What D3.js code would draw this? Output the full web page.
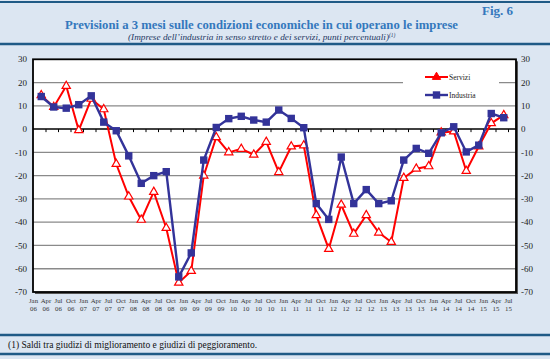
<!DOCTYPE html>
<html><head><meta charset="utf-8">
<script src="https://cdn.jsdelivr.net/npm/d3@7"></script>
<style>body{margin:0;background:#dce6f2;} svg{display:block;}</style>
</head><body>
<script>
const tickLabels = ["Jan 06","Apr 06","Jul 06","Oct 06","Jan 07","Apr 07","Jul 07","Oct 07",
 "Jan 08","Apr 08","Jul 08","Oct 08","Jan 09","Apr 09","Jul 09","Oct 09",
 "Jan 10","Apr 10","Jul 10","Oct 10","Jan 11","Apr 11","Jul 11","Oct 11",
 "Jan 12","Apr 12","Jul 12","Oct 12","Jan 13","Apr 13","Jul 13","Oct 13",
 "Jan 14","Apr 14","Jul 14","Oct 14","Jan 15","Apr 15","Jul 15"];
const servizi = [14.5,9.5,18.5,-0.5,13,8.5,-15,-29,-39,-27,-42.5,-66,-61,-20,-3.5,-10,-8.5,-11,-5.5,
 -18.5,-7.5,-7,-37,-51.5,-32.5,-45,-37,-44.5,-48.5,-21,-17,-16,-1.5,-1,-18,-7.5,2.5,6];
const industria = [14,9.5,9,10.5,14.3,3,-0.7,-11.5,-23.3,-20,-18.3,-63.5,-53.2,-13.3,0.7,4.5,5.5,3.9,3,
 8.2,4.6,0.6,-32,-38.8,-12,-32,-26,-32,-30.8,-13.3,-8.3,-10.4,-1.6,1,-9.8,-6.9,6.7,4.9];
const yTicks = [30,20,10,0,-10,-20,-30,-40,-50,-60,-70];
const seriesNames = ["Servizi","Industria"];

const W=550,H=359;
const svg=d3.select("body").append("svg").attr("width",W).attr("height",H);
svg.append("rect").attr("width",W).attr("height",H).attr("fill","#dce6f2");

const dark="#1f5a86", titleBlue="#3478bd";
svg.append("line").attr("x1",0).attr("x2",W).attr("y1",2).attr("y2",2).attr("stroke",dark).attr("stroke-width",2);
svg.append("line").attr("x1",0).attr("x2",W).attr("y1",44).attr("y2",44).attr("stroke",dark).attr("stroke-width",2.5);
svg.append("line").attr("x1",0).attr("x2",W).attr("y1",335).attr("y2",335).attr("stroke",dark).attr("stroke-width",2.5);
svg.append("line").attr("x1",0).attr("x2",W).attr("y1",354).attr("y2",354).attr("stroke",dark).attr("stroke-width",2.5);

svg.append("text").attr("x",513).attr("y",15).attr("text-anchor","end")
 .attr("font-family","Liberation Serif").attr("font-weight","bold").attr("font-size",13).attr("fill",titleBlue).text("Fig. 6");
svg.append("text").attr("x",65).attr("y",29).attr("textLength",393).attr("lengthAdjust","spacingAndGlyphs")
 .attr("font-family","Liberation Serif").attr("font-weight","bold").attr("font-size",13).attr("fill",titleBlue)
 .text("Previsioni a 3 mesi sulle condizioni economiche in cui operano le imprese");
const st=svg.append("text").attr("x",128).attr("y",40)
 .attr("font-family","Liberation Serif").attr("font-style","italic").attr("font-size",8.8).attr("fill","#1f3864");
st.append("tspan").attr("textLength",261).attr("lengthAdjust","spacingAndGlyphs").text("(Imprese dell\u2019industria in senso stretto e dei servizi, punti percentuali)");
st.append("tspan").attr("font-size",5.5).attr("dy",-3).text("(1)");

svg.append("text").attr("x",8).attr("y",348).attr("font-family","Liberation Serif").attr("font-size",9.5).attr("fill","#111")
 .text("(1) Saldi tra giudizi di miglioramento e giudizi di peggioramento.");

const x=d3.scaleLinear().domain([0,38.6]).range([33.5,516]);
const y=d3.scaleLinear().domain([-70,30]).range([292,59.3]);
const pOff=0.62;
const L=33, R=516, T=y(30), B=y(-70);

svg.append("rect").attr("x",L+2).attr("y",T+2).attr("width",R-L).attr("height",B-T).attr("fill","#555");
svg.append("rect").attr("x",L).attr("y",T).attr("width",R-L).attr("height",B-T).attr("fill","#fff");

svg.append("g").selectAll("line").data(yTicks.filter(d=>d!==0&&d!==30&&d!==-70)).join("line")
 .attr("x1",L).attr("x2",R).attr("y1",d=>y(d)).attr("y2",d=>y(d)).attr("stroke","#8a8a8a").attr("stroke-width",1.3);

svg.append("rect").attr("x",403).attr("y",64).attr("width",96).attr("height",40).attr("fill","#fff");

svg.append("line").attr("x1",L).attr("x2",R).attr("y1",y(0)).attr("y2",y(0)).attr("stroke","#000").attr("stroke-width",1.5);
svg.append("g").selectAll("line").data(d3.range(1,tickLabels.length)).join("line")
 .attr("x1",d=>x(d)).attr("x2",d=>x(d)).attr("y1",y(0)).attr("y2",y(0)+3).attr("stroke","#000").attr("stroke-width",1);

svg.append("rect").attr("x",L).attr("y",T).attr("width",R-L).attr("height",B-T).attr("fill","none").attr("stroke","#000").attr("stroke-width",1.8);

const yl=svg.append("g").attr("font-family","Liberation Serif").attr("font-size",9).attr("fill","#222");
yl.selectAll("text.l").data(yTicks).join("text").attr("class","l").attr("x",27).attr("y",d=>y(d)).attr("dy","0.35em").attr("text-anchor","end").text(d=>d);
yl.selectAll("text.r").data(yTicks).join("text").attr("class","r").attr("x",521).attr("y",d=>y(d)).attr("dy","0.35em").attr("text-anchor","start").text(d=>d);

const xl=svg.append("g").attr("font-family","Liberation Serif").attr("font-size",6.8).attr("fill","#333").attr("text-anchor","middle");
xl.selectAll("text.m").data(tickLabels).join("text").attr("class","m").attr("x",(d,i)=>x(i)).attr("y",302.5).text(d=>d.split(" ")[0]);
xl.selectAll("text.yr").data(tickLabels).join("text").attr("class","yr").attr("x",(d,i)=>x(i)).attr("y",311).text(d=>d.split(" ")[1]);

const red="#ff0000", blue="#333399";
const line=d3.line().x((d,i)=>x(i+pOff)).y(d=>y(d));
svg.append("path").datum(servizi).attr("d",line).attr("fill","none").attr("stroke",red).attr("stroke-width",2);
const tri=d3.symbol().type(d3.symbolTriangle).size(30);
svg.append("g").selectAll("path").data(servizi).join("path").attr("d",tri)
 .attr("transform",(d,i)=>`translate(${x(i+pOff)},${y(d)})`).attr("fill","#fff").attr("stroke",red).attr("stroke-width",1.2);

svg.append("path").datum(industria).attr("d",line).attr("fill","none").attr("stroke",blue).attr("stroke-width",2.4);
svg.append("g").selectAll("rect").data(industria).join("rect")
 .attr("x",(d,i)=>x(i+pOff)-3.7).attr("y",d=>y(d)-3.7).attr("width",7.4).attr("height",7.4).attr("fill",blue);

const lg=svg.append("g").attr("font-family","Liberation Serif").attr("font-size",7.5).attr("fill","#222");
const ly=[77,95];
lg.append("line").attr("x1",425).attr("x2",448).attr("y1",ly[0]).attr("y2",ly[0]).attr("stroke",red).attr("stroke-width",2);
lg.append("path").attr("d",tri).attr("transform",`translate(436.5,${ly[0]})`).attr("fill",red).attr("stroke",red);
lg.append("line").attr("x1",425).attr("x2",448).attr("y1",ly[1]).attr("y2",ly[1]).attr("stroke",blue).attr("stroke-width",2.4);
lg.append("rect").attr("x",436.5-3.7).attr("y",ly[1]-3.7).attr("width",7.4).attr("height",7.4).attr("fill",blue);
lg.selectAll("text").data(seriesNames).join("text").attr("x",449).attr("y",(d,i)=>ly[i]).attr("dy","0.35em").text(d=>d);
</script>
</body></html>
